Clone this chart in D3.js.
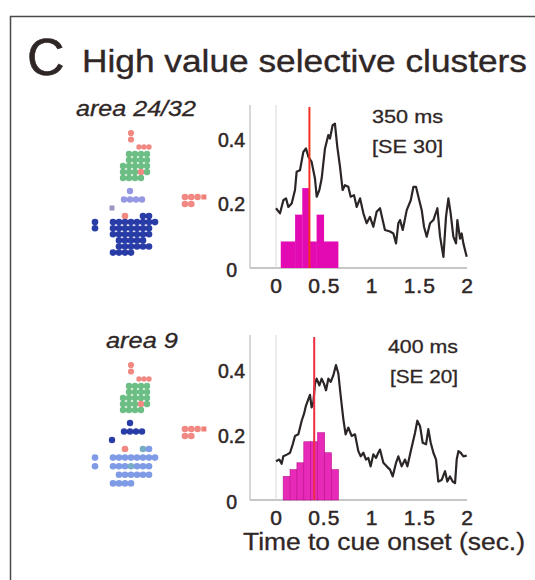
<!DOCTYPE html>
<html>
<head>
<meta charset="utf-8">
<title>High value selective clusters</title>
<script src="https://cdn.jsdelivr.net/npm/d3@7"></script>
<style>
body { margin: 0; background: #fff; }
text { font-family: "Liberation Sans", Arial, sans-serif; fill: #2f2626; stroke: #2f2626; stroke-width: 0.3px; }
.tick text { stroke-width: 0.5px; }
</style>
</head>
<body>
<script>
// population curve, area 24/32 (time in s, fraction)
var topTime = [0,0.042,0.077,0.105,0.129,0.164,0.199,0.216,0.251,0.286,0.314,0.339,0.373,0.408,0.426,0.454,0.478,0.513,0.548,0.565,0.593,0.617,0.642,0.670,0.698,0.722,0.757,0.782,0.817,0.845,0.880,0.915,0.949,0.984,1.019,1.054,1.089,1.117,1.141,1.194,1.229,1.257,1.281,1.299,1.327,1.369,1.411,1.439,1.466,1.491,1.526,1.550,1.578,1.613,1.648,1.690,1.718,1.753,1.780,1.805,1.829,1.857,1.885,1.899,1.927,1.944,1.962,1.997];
var topValue = [0.187,0.171,0.212,0.218,0.191,0.202,0.244,0.301,0.306,0.363,0.374,0.348,0.332,0.280,0.223,0.244,0.280,0.374,0.416,0.405,0.447,0.452,0.379,0.317,0.244,0.259,0.254,0.223,0.228,0.191,0.218,0.171,0.140,0.160,0.129,0.176,0.187,0.150,0.119,0.114,0.108,0.077,0.140,0.150,0.119,0.181,0.212,0.254,0.254,0.223,0.181,0.129,0.098,0.140,0.150,0.187,0.098,0.035,0.160,0.218,0.171,0.098,0.077,0.150,0.092,0.108,0.077,0.035];

// population curve, area 9
var botTime = [0,0.035,0.059,0.077,0.119,0.147,0.175,0.199,0.234,0.269,0.293,0.314,0.339,0.356,0.373,0.391,0.408,0.426,0.454,0.478,0.503,0.524,0.548,0.573,0.600,0.628,0.653,0.677,0.705,0.729,0.757,0.792,0.827,0.862,0.887,0.915,0.942,0.967,0.991,1.019,1.047,1.071,1.089,1.124,1.159,1.194,1.222,1.257,1.281,1.316,1.351,1.376,1.411,1.456,1.480,1.508,1.536,1.571,1.595,1.620,1.648,1.676,1.700,1.735,1.770,1.794,1.822,1.850,1.875,1.892,1.910,1.934,1.962,1.997];
var botValue = [0.120,0.125,0.112,0.135,0.141,0.146,0.172,0.198,0.203,0.245,0.266,0.292,0.312,0.325,0.286,0.302,0.359,0.375,0.354,0.375,0.359,0.339,0.375,0.365,0.385,0.417,0.391,0.323,0.250,0.203,0.224,0.198,0.203,0.151,0.135,0.146,0.125,0.130,0.104,0.141,0.130,0.146,0.156,0.115,0.104,0.094,0.073,0.115,0.135,0.104,0.125,0.104,0.151,0.208,0.245,0.229,0.177,0.172,0.219,0.177,0.146,0.125,0.057,0.062,0.089,0.057,0.073,0.057,0.052,0.125,0.151,0.146,0.135,0.137];

// latency histograms (bin start in s, fraction of clusters)
var topBinStart = [0.05,0.125,0.2,0.275,0.35,0.425,0.5,0.575];
var topBinFrac = [0.083,0.083,0.167,0.25,0.083,0.167,0.083,0.083];
var topBinWidth = 0.075;
var botBinStart = [0.075,0.147,0.219,0.291,0.363,0.435,0.507,0.579];
var botBinFrac = [0.073,0.094,0.115,0.18,0.18,0.208,0.146,0.094];
var botBinWidth = 0.072;

// mean latency and labels
var latency = [0.35, 0.40];
var latencyText = ["350 ms", "400 ms"];
var seText = ["[SE 30]", "[SE 20]"];
var areaNames = ["area 24/32", "area 9"];
var xTicks = [0, 0.5, 1, 1.5, 2];
var yTicks = [0, 0.2, 0.4];

// recording maps (one character per site)
var topStack = ["S","S"];
var topRow = ["SSS"];
var topGreen = [".GGGG",".GGGG","GGGGG","GGGSG","GGGG."];
var topMid = ["...L..","..LLLL","P....."];
var topMain = [".....S..BB","B..BBBBBBBB","B..BBBBBBB","...BBBBBBB","....BBBBB","....BBBBBB","...BBBB"];
var botStack = ["S","S"];
var botRow = ["SSS"];
var botGreen = [".GGGG",".GGGG","GGGGG","GGGSG","GGGG."];
var botMid = ["...B..","..BBBB","B....."];
var botMain = [".....S..TC","C..CCCCCCCC","C..CCCTCCC","....CCCCCC","...CCCC"];
var sideDots = ["SSSp","SS.."];

var dotColors = {G:"#5fb87a", S:"#f07f78", L:"#8c8fe0", P:"#a392c8", B:"#1a2aa0", C:"#7492e4", T:"#6ea6c0", p:"#f07f78"};

var svg = d3.select('body')
.append('svg')
.attr('width', 535)
.attr('height', 580)

// soft edge for map sites
svg.append('defs')
.append('filter').attr('id', 'soft')
.append('feGaussianBlur').attr('stdDeviation', 0.45)

// frame
svg.append('rect')
.attr('x', 10.5).attr('y', 16.5)
.attr('width', 540).attr('height', 580)
.attr('fill', 'none')
.attr('stroke', '#4a4a4a')
.attr('stroke-width', 1.5)

// title
svg.append('text')
.attr('x', 27).attr('y', 75)
.style('font-size', '52px')
.style('stroke-width', '0.6px')
.text('C')
svg.append('text')
.attr('x', 82).attr('y', 72)
.style('font-size', '31px')
.style('stroke-width', '0.35px')
.attr('textLength', 445).attr('lengthAdjust', 'spacingAndGlyphs')
.text('High value selective clusters')

var x = d3.scaleLinear().domain([0, 2]).range([276, 467]);

function drawDots(g, rows, x0, y0, dx, dy, r) {
  var cells = [];
  rows.forEach(function(row, i) {
    row.split('').forEach(function(c, j) {
      if (c != '.') cells.push({c: c, col: j, row: i});
    });
  });
  var sx = d3.scaleLinear().domain([0, 1]).range([x0, x0 + dx]);
  var sy = d3.scaleLinear().domain([0, 1]).range([y0, y0 + dy]);
  var gg = g.append('g').attr('filter', 'url(#soft)');
  gg.selectAll(null)
  .data(cells.filter(function(d) {return d.c != 'P' && d.c != 'p';}))
  .enter()
  .append('circle')
  .attr('cx', function(d) {return sx(d.col);})
  .attr('cy', function(d) {return sy(d.row);})
  .attr('r', r)
  .attr('fill', function(d) {return dotColors[d.c];})
  .attr('fill-opacity', 0.92);
  gg.selectAll(null)
  .data(cells.filter(function(d) {return d.c == 'P' || d.c == 'p';}))
  .enter()
  .append('rect')
  .attr('x', function(d) {return sx(d.col) - 2.5;})
  .attr('y', function(d) {return sy(d.row) - 2.5;})
  .attr('width', 5).attr('height', 5)
  .attr('fill', function(d) {return dotColors[d.c];});
}

function panel(i, top, bottom, times, values, binStart, binFrac, binWidth, maps) {
  var y = d3.scaleLinear().domain([0, 0.51]).range([bottom, top]);
  var g = svg.append('g');

  // area label
  g.append('text')
  .attr('x', i == 0 ? 76 : 106).attr('y', bottom - 152)
  .style('font-size', '21.5px').style('font-style', 'italic')
  .attr('textLength', i == 0 ? 120 : 72).attr('lengthAdjust', 'spacingAndGlyphs')
  .text(areaNames[i])

  // site map
  var off = bottom - 268;
  drawDots(g, maps[0], 131, 133 + off, 0, 6.5, 3.1);
  drawDots(g, maps[1], 139, 147 + off, 5, 0, 2.7);
  drawDots(g, maps[2], 123, 154 + off, 6, 6, 3.2);
  drawDots(g, maps[3], 112, 191 + off, 6, 8.5, 3.2);
  drawDots(g, maps[4], 95, 216 + off + (i == 0 ? 0 : 1), 6, i == 0 ? 6.1 : 8.6, 3.3);
  drawDots(g, sideDots, 185, 197 + off, 6.3, 7, 3.3);

  // axes
  g.append('line')
  .attr('x1', 250).attr('x2', 250)
  .attr('y1', y(0.51)).attr('y2', y(0))
  .attr('stroke', '#bdbdbd').attr('stroke-width', 1.2)
  g.append('line')
  .attr('x1', 250).attr('x2', x(2))
  .attr('y1', y(0)).attr('y2', y(0))
  .attr('stroke', '#b5b5b5').attr('stroke-width', 1.4)
  g.append('line')
  .attr('x1', x(0)).attr('x2', x(0))
  .attr('y1', y(0.51)).attr('y2', y(0))
  .attr('stroke', '#d8d8d8').attr('stroke-width', 1)

  var ya = g.append('g')
  .attr('transform', 'translate(250,0)')
  .call(d3.axisLeft(y).tickValues(yTicks).tickSize(0).tickPadding(5).tickFormat(d3.format('')))
  ya.select('.domain').remove()
  ya.selectAll('text')
  .style('font-family', '"Liberation Sans", Arial, sans-serif')
  .style('font-size', '19.5px')
  .attr('fill', '#2f2626')
  .attr('x', function(d) {return d == 0 ? -13 : -5;})
  .attr('dy', function(d) {return d == 0 ? '0.42em' : '0.35em';})

  var xa = g.append('g')
  .attr('transform', 'translate(0,' + y(0) + ')')
  .call(d3.axisBottom(x).tickValues(xTicks).tickSize(0).tickPadding(10).tickFormat(d3.format('')))
  xa.select('.domain').remove()
  xa.selectAll('text')
  .style('font-family', '"Liberation Sans", Arial, sans-serif')
  .style('font-size', '21px')
  .style('letter-spacing', '1px')
  .attr('fill', '#2f2626')

  // latency histogram
  g.selectAll(null)
  .data(binStart)
  .enter()
  .append('rect')
  .attr('x', function(d) {return x(d);})
  .attr('y', function(d, k) {return y(binFrac[k]);})
  .attr('width', x(binWidth) - x(0) + 0.3)
  .attr('height', function(d, k) {return y(0) - y(binFrac[k]);})
  .attr('fill', i == 0 ? '#e30ab4' : '#e82ab8')
  .attr('stroke', i == 0 ? 'none' : '#b8158a')
  .attr('stroke-width', 0.6)

  // population curve
  var line = d3.line()
  .x(function(d, k) {return x(times[k]);})
  .y(function(d) {return y(d);});
  g.append('path')
  .attr('d', line(values))
  .attr('fill', 'none')
  .attr('stroke', '#2b2525')
  .attr('stroke-width', 2.2)
  .attr('stroke-linejoin', 'round')

  // mean latency
  g.append('line')
  .attr('x1', x(latency[i])).attr('x2', x(latency[i]))
  .attr('y1', top + 2).attr('y2', y(0))
  .attr('stroke', i == 0 ? '#f2321e' : '#ee2d45')
  .attr('stroke-width', 2)

  g.append('text')
  .attr('x', i == 0 ? 372 : 388).attr('y', top + 18)
  .style('font-size', '18.5px')
  .attr('textLength', i == 0 ? 71 : 70).attr('lengthAdjust', 'spacingAndGlyphs')
  .text(latencyText[i])
  g.append('text')
  .attr('x', i == 0 ? 372 : 390).attr('y', top + 48)
  .style('font-size', '18.5px')
  .attr('textLength', i == 0 ? 71 : 68).attr('lengthAdjust', 'spacingAndGlyphs')
  .text(seText[i])
}

panel(0, 105, 268, topTime, topValue, topBinStart, topBinFrac, topBinWidth, [topStack, topRow, topGreen, topMid, topMain]);
panel(1, 335, 500, botTime, botValue, botBinStart, botBinFrac, botBinWidth, [botStack, botRow, botGreen, botMid, botMain]);

// x label
svg.append('text')
.attr('x', 243).attr('y', 550)
.style('font-size', '23.5px')
.attr('textLength', 282).attr('lengthAdjust', 'spacingAndGlyphs')
.text('Time to cue onset (sec.)')
</script>
</body>
</html>
